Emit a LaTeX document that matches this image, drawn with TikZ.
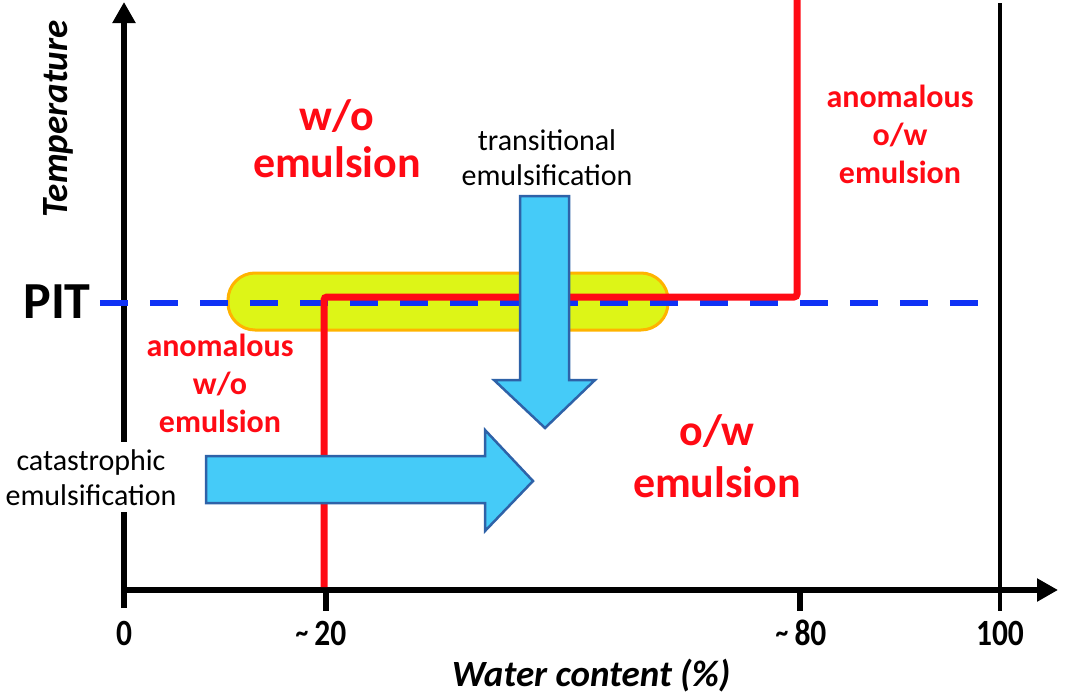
\documentclass[tikz,border=0pt]{standalone}
\usepackage{fontspec}
\setmainfont{Carlito}
\newfontfamily\numfont[FakeStretch=0.85]{Carlito}
\usetikzlibrary{arrows.meta}
\definecolor{lred}{RGB}{255,10,20}
\definecolor{dblue}{RGB}{15,50,245}
\definecolor{blobfill}{RGB}{221,245,23}
\definecolor{bloborange}{RGB}{255,179,0}
\definecolor{arrfill}{RGB}{69,203,248}
\definecolor{arredge}{RGB}{46,98,168}
\newcommand{\approxtilde}{\raisebox{3pt}{\fontsize{30}{30}\selectfont\textasciitilde}}
\tikzset{
  axisline/.style={line width=6pt, draw=black},
  axisarrow/.style={axisline, -{Triangle[length=21pt,width=22pt]}},
  tickline/.style={line width=6pt, draw=black},
  pitline/.style={line width=6pt, draw=dblue, dash pattern=on 28pt off 22pt},
  boundary/.style={line width=7pt, draw=lred, rounded corners=3pt},
  blob/.style={fill=blobfill, draw=bloborange, line width=3pt, rounded corners=27pt},
  bigarrow/.style={fill=arrfill, draw=arredge, line width=2.5pt, line join=miter},
  redbig/.style={text=lred, font=\fontsize{44}{47}\bfseries, align=center, inner sep=0pt, anchor=base},
  redsmall/.style={text=lred, font=\fontsize{32}{38}\bfseries, align=center, inner sep=0pt, anchor=base},
  blacklabel/.style={text=black, font=\fontsize{30}{35}\selectfont, align=center, inner sep=0pt, anchor=base},
  numlabel/.style={font=\fontsize{37}{40}\numfont\bfseries, inner sep=0pt, anchor=base},
  axislabel/.style={font=\fontsize{37}{40}\bfseries\itshape, inner sep=0pt},
}
\begin{document}
\begin{tikzpicture}[x=1pt,y=-1pt]
\useasboundingbox (0,0) rectangle (1067,696);
% axes
\coordinate (O) at (124,590);
\coordinate (ybot) at (124,608);
\coordinate (ytop) at (124,2);
\coordinate (xend) at (1058,590);
\coordinate (t20a) at (326,590);
\coordinate (t20b) at (326,611);
\coordinate (t80a) at (800,590);
\coordinate (t80b) at (800,611);
\coordinate (c100a) at (1000,3);
\coordinate (c100b) at (1000,611);
\draw[axisarrow] (ybot) -- (ytop);
\draw[axisarrow] (O) -- (xend);
\draw[tickline] (t20a) -- (t20b);
\draw[tickline] (t80a) -- (t80b);
\draw[line width=4pt] (c100a) -- (c100b);
% yellow region
\draw[blob] (228,273) rectangle (668,330);
% PIT line
\coordinate (pitA) at (100,303);
\coordinate (pitB) at (986,303);
\draw[pitline] (pitA) -- (pitB);
% boundary
\coordinate (r1) at (324,587);
\coordinate (r2) at (324,297);
\coordinate (r3) at (797,297);
\coordinate (r4) at (797,-4);
\draw[boundary] (r1) -- (r2) -- (r3) -- (r4);
% big arrows
\draw[bigarrow] (520,196) -- (569,196) -- (569,380) -- (595,380) -- (545,428) -- (494,380) -- (520,380) -- cycle;
\draw[bigarrow] (206,456) -- (485,456) -- (485,430) -- (533,481) -- (485,531) -- (485,503) -- (206,503) -- cycle;
% texts
\node[redbig] (wo) at (337,177) {w/o\\emulsion};
\node[redbig, font=\fontsize{44}{52}\bfseries] (ow) at (717,497) {o/w\\emulsion};
\node[redsmall] (aow) at (900,183) {anomalous\\o/w\\emulsion};
\node[redsmall] (awo) at (220,432) {anomalous\\w/o\\emulsion};
\node[blacklabel] (trans) at (547,185) {transitional\\emulsification};
\node[blacklabel, fill=white, inner xsep=2pt, inner ysep=7pt] (cat) at (91,505) {catastrophic\\emulsification};
\node[font=\fontsize{52}{56}\bfseries, inner sep=0pt, anchor=base] (pit) at (57,318) {PIT};
\node[axislabel, rotate=90] (temp) at (58,119) {Temperature};
\node[axislabel] (water) at (591,676) {Water content (\%)};
\node[numlabel] (n0) at (124,645) {0};
\node[numlabel] (n20) at (321,645) {\approxtilde\,20};
\node[numlabel] (n80) at (801,645) {\approxtilde\,80};
\node[numlabel] (n100) at (1000,645) {100};
\end{tikzpicture}
\end{document}
